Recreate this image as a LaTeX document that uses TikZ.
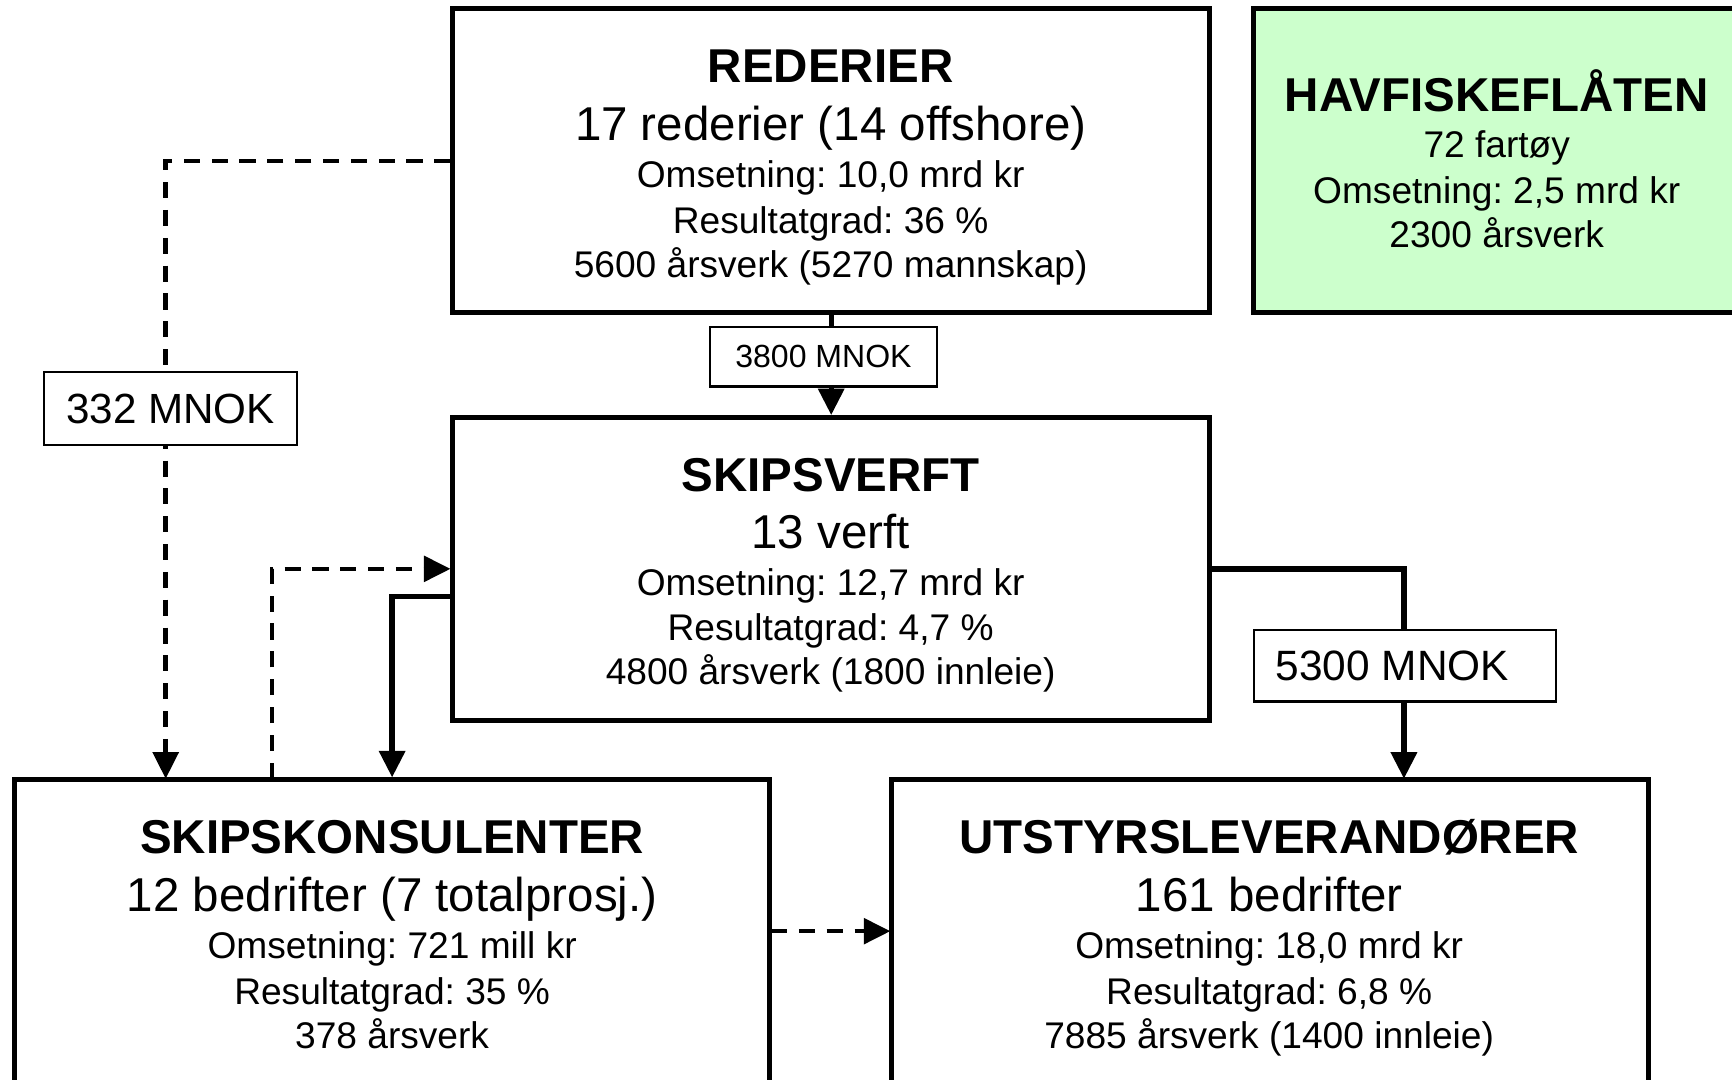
\documentclass[tikz,border=0pt]{standalone}
\usepackage{fontspec}
\setmainfont{Liberation Sans}
\usetikzlibrary{arrows.meta}
\definecolor{paleGreen}{HTML}{CCFFCC}
\frenchspacing
\begin{document}
\begin{tikzpicture}[x=0.5pt,y=-0.5pt,
  bigbox/.style={draw, line width=2.2pt, inner sep=0pt},
  labbox/.style={draw, fill=white, line width=1pt, inner sep=0pt},
  ttl/.style={font=\fontsize{21.5}{25}\selectfont\bfseries, anchor=base, inner sep=0pt},
  sub/.style={font=\fontsize{21.5}{25}\selectfont, anchor=base, inner sep=0pt},
  txt/.style={font=\fontsize{16.8}{20}\selectfont, anchor=base, inner sep=0pt},
  tip/.style={-{Triangle[length=12pt,width=11.5pt]}},
  conn/.style={line width=2.4pt, tip},
  dline/.style={line width=2pt, dash pattern=on 7.3pt off 5.3pt, tip}
]
\useasboundingbox (0,0) rectangle (1568,977.7);

% boxes
\node[bigbox, minimum width=342.5pt, minimum height=137.5pt] (red) at (752.5,145.5) {};
\node[bigbox, fill=paleGreen, minimum width=227.5pt, minimum height=137.5pt] (hav) at (1362.5,145.5) {};
\node[bigbox, minimum width=342.5pt, minimum height=137pt] (verft) at (752.5,515) {};
\node[bigbox, minimum width=342pt, minimum height=147pt] (kons) at (355,853) {};
\node[bigbox, minimum width=342.5pt, minimum height=147pt] (uts) at (1149.5,853) {};

% helper coordinates
\coordinate (k1) at (150,705);
\coordinate (k2) at (246,705);
\coordinate (v1) at (409,540);
\coordinate (u1) at (1271,705);
\coordinate (k3) at (698,843);
\coordinate (u2) at (806,843);

% connectors
\draw[dline] (red.west) -| (k1);
\draw[conn] (red.south) -- (verft.north);
\draw[dline] (k2) |- (verft.west);
\draw[conn] (v1) -| (kons.north);
\draw[conn] (verft.east) -| (u1);
\draw[dline] (k3) -- (u2);

% connector labels
\node[labbox, minimum width=114.5pt, minimum height=33pt, font=\fontsize{19.1}{22}\selectfont] (l332) at (154.5,370) {332 MNOK};
\node[labbox, minimum width=102.5pt, minimum height=27pt, font=\fontsize{14.5}{17}\selectfont] (l3800) at (745.5,323) {3800 MNOK};
\node[labbox, minimum width=137pt, minimum height=32.5pt, font=\fontsize{19.2}{22}\selectfont] (l5300) at (1272,602.5) {5300 MNOK\kern11.5pt};

% REDERIER
\node[ttl] (r1) at (752,75) {REDERIER};
\node[sub] (r2) at (752,127) {17 rederier (14 offshore)};
\node[txt] (r3) at (752,170) {Omsetning: 10,0 mrd kr};
\node[txt] (r4) at (752,211) {Resultatgrad: 36 \%};
\node[txt] (r5) at (752,251) {5600 årsverk (5270 mannskap)};

% HAVFISKEFLÅTEN
\node[ttl] (h1) at (1355,101) {HAVFISKEFLÅTEN};
\node[txt] (h2) at (1355,143) {72 fartøy};
\node[txt] (h3) at (1355,184) {Omsetning: 2,5 mrd kr};
\node[txt] (h4) at (1355,224) {2300 årsverk};

% SKIPSVERFT
\node[ttl] (s1) at (752,445) {SKIPSVERFT};
\node[sub] (s2) at (752,497) {13 verft};
\node[txt] (s3) at (752,539) {Omsetning: 12,7 mrd kr};
\node[txt] (s4) at (752,580) {Resultatgrad: 4,7 \%};
\node[txt] (s5) at (752,620) {4800 årsverk (1800 innleie)};

% SKIPSKONSULENTER
\node[ttl] (c1) at (355,773) {SKIPSKONSULENTER};
\node[sub] (c2) at (355,825) {12 bedrifter (7 totalprosj.)};
\node[txt] (c3) at (355,868) {Omsetning: 721 mill kr};
\node[txt] (c4) at (355,909) {Resultatgrad: 35 \%};
\node[txt] (c5) at (355,949) {378 årsverk};

% UTSTYRSLEVERANDØRER
\node[ttl] (e1) at (1149,773) {UTSTYRSLEVERANDØRER};
\node[sub] (e2) at (1149,825) {161 bedrifter};
\node[txt] (e3) at (1149,868) {Omsetning: 18,0 mrd kr};
\node[txt] (e4) at (1149,909) {Resultatgrad: 6,8 \%};
\node[txt] (e5) at (1149,949) {7885 årsverk (1400 innleie)};
\end{tikzpicture}
\end{document}
